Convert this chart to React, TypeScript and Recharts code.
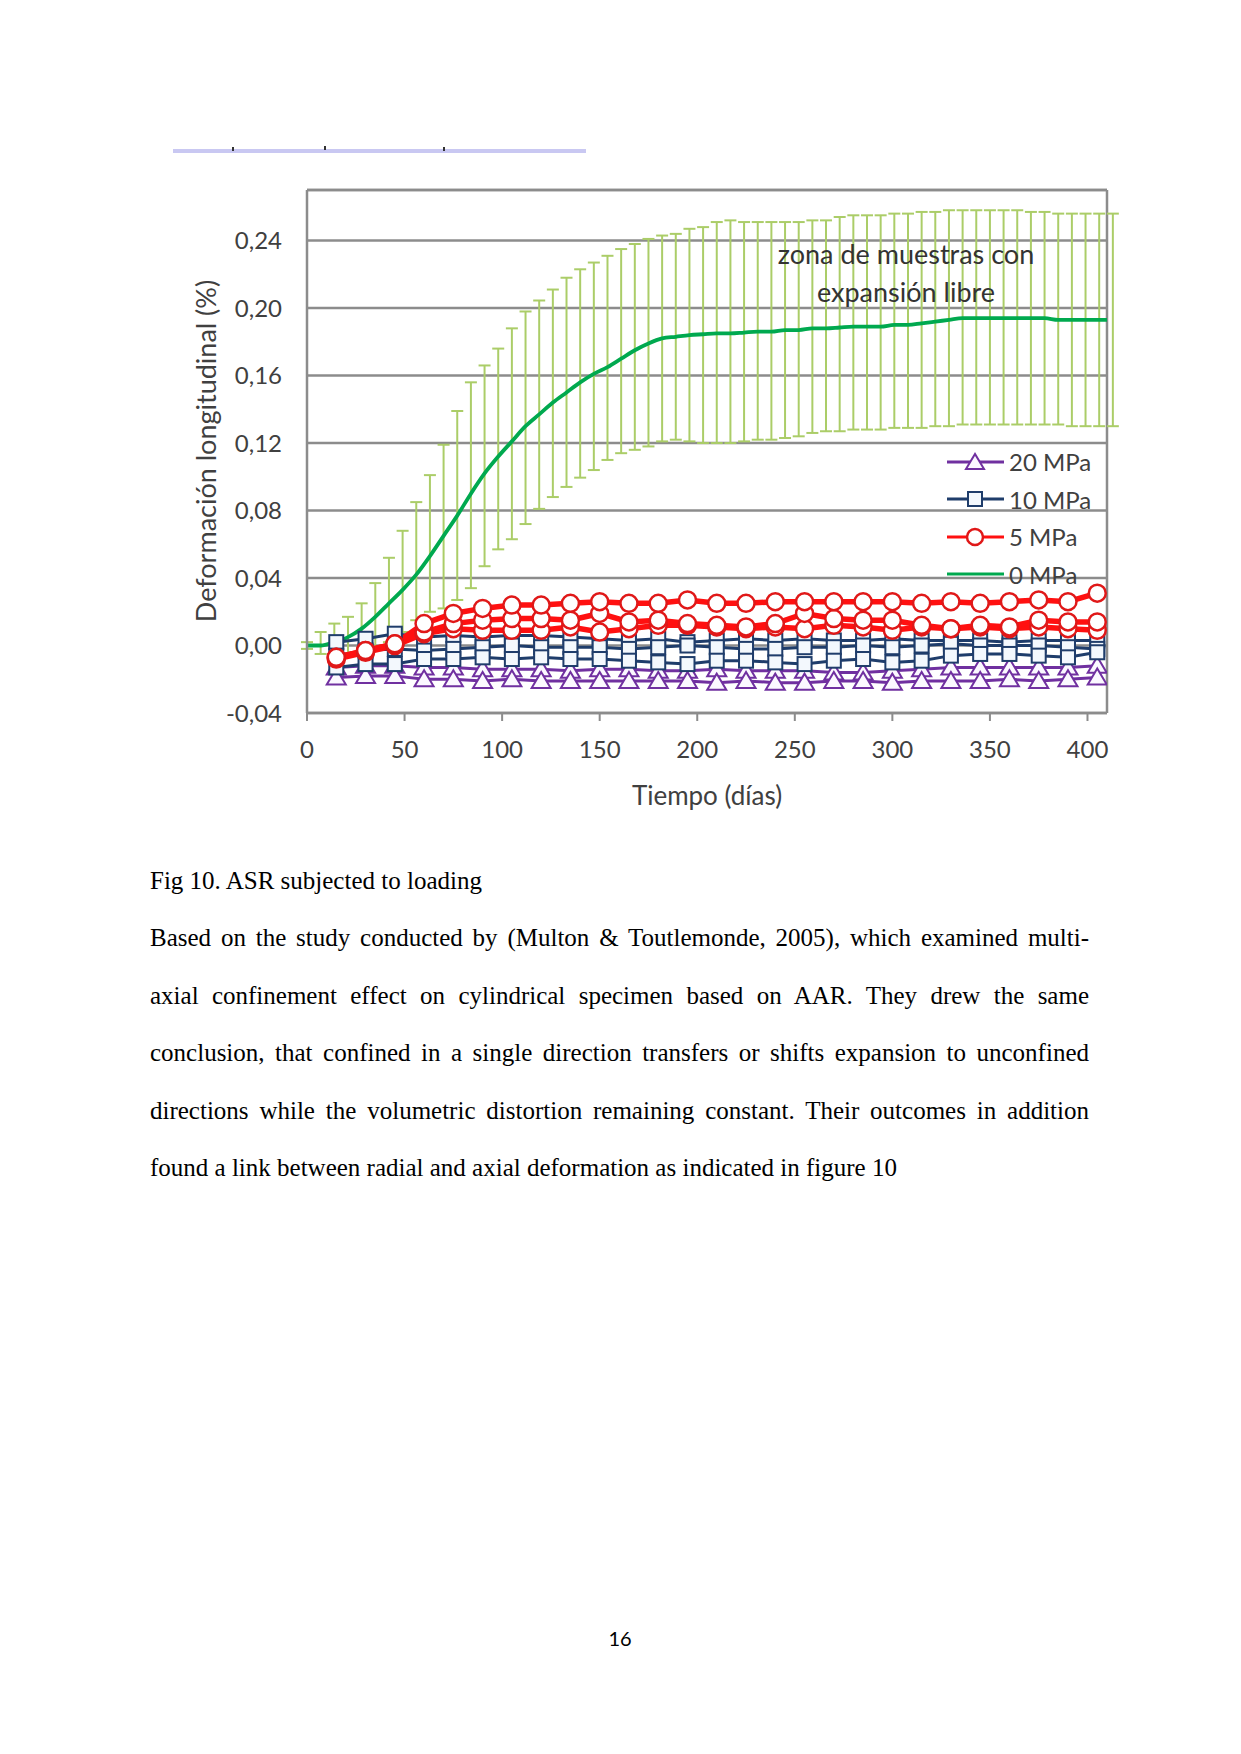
import React from 'react'
import { LineChart, Line, XAxis, YAxis, CartesianGrid, ReferenceLine, ErrorBar, Legend } from 'recharts'

// 0 MPa (muestras libres), medidas semanales
const diasLibre = [
  0, 7, 14, 21, 28, 35, 42, 49, 56, 63, 70, 77, 84, 91, 98, 105, 112, 119, 126, 133, 140, 147, 154, 161, 168,
  175, 182, 189, 196, 203, 210, 217, 224, 231, 238, 245, 252, 259, 266, 273, 280, 287, 294, 301, 308, 315,
  322, 329, 336, 343, 350, 357, 364, 371, 378, 385, 392, 399, 406, 413
]
const libreMedia = [
  0.0, 0.0, 0.002, 0.005, 0.01, 0.017, 0.025, 0.033, 0.042, 0.053, 0.065, 0.077, 0.09, 0.102, 0.112, 0.121,
  0.13, 0.137, 0.144, 0.15, 0.156, 0.161, 0.165, 0.17, 0.175, 0.179, 0.182, 0.183, 0.184, 0.1845, 0.185, 0.185,
  0.1855, 0.186, 0.186, 0.187, 0.187, 0.188, 0.188, 0.1885, 0.189, 0.189, 0.189, 0.19, 0.19, 0.191, 0.192,
  0.193, 0.194, 0.194, 0.194, 0.194, 0.194, 0.194, 0.194, 0.193, 0.193, 0.193, 0.193, 0.193
]
const libreSup = [
  0.002, 0.008, 0.013, 0.017, 0.025, 0.037, 0.052, 0.068, 0.085, 0.101, 0.119, 0.139, 0.156, 0.166, 0.176,
  0.188, 0.198, 0.2045, 0.211, 0.218, 0.223, 0.227, 0.231, 0.235, 0.238, 0.241, 0.243, 0.244, 0.247, 0.248,
  0.251, 0.252, 0.251, 0.251, 0.251, 0.251, 0.251, 0.252, 0.252, 0.254, 0.255, 0.255, 0.255, 0.256, 0.256,
  0.257, 0.257, 0.258, 0.258, 0.258, 0.258, 0.258, 0.258, 0.257, 0.257, 0.256, 0.256, 0.256, 0.256, 0.256
]
const libreInf = [
  -0.002, -0.005, -0.006, -0.005, -0.003, -0.001, 0.002, 0.008, 0.015, 0.02, 0.022, 0.027, 0.034, 0.047, 0.057,
  0.063, 0.072, 0.081, 0.088, 0.094, 0.0995, 0.104, 0.11, 0.114, 0.116, 0.118, 0.121, 0.122, 0.121, 0.12, 0.12,
  0.12, 0.121, 0.122, 0.122, 0.123, 0.124, 0.126, 0.127, 0.127, 0.128, 0.128, 0.128, 0.129, 0.129, 0.129, 0.13,
  0.13, 0.131, 0.131, 0.131, 0.131, 0.131, 0.131, 0.131, 0.131, 0.13, 0.13, 0.13, 0.13
]

// muestras cargadas, cada 15 dias
const diasCarga = [15, 30, 45, 60, 75, 90, 105, 120, 135, 150, 165, 180, 195, 210, 225, 240, 255, 270, 285, 300, 315, 330, 345, 360, 375, 390, 405]

const mpa5a = [-0.007, -0.003, 0.001, 0.013, 0.019, 0.022, 0.024, 0.024, 0.025, 0.026, 0.025, 0.025, 0.027, 0.025, 0.025, 0.026, 0.026, 0.026, 0.026, 0.026, 0.025, 0.026, 0.025, 0.026, 0.027, 0.026, 0.031]
const mpa5b = [-0.007, -0.003, 0.001, 0.008, 0.013, 0.015, 0.016, 0.016, 0.015, 0.019, 0.014, 0.015, 0.013, 0.012, 0.011, 0.013, 0.019, 0.016, 0.015, 0.015, 0.012, 0.01, 0.012, 0.011, 0.015, 0.014, 0.014]
const mpa5c = [-0.008, -0.004, 0.0, 0.007, 0.01, 0.009, 0.009, 0.009, 0.011, 0.008, 0.01, 0.012, 0.012, 0.011, 0.01, 0.011, 0.01, 0.012, 0.011, 0.009, 0.011, 0.01, 0.011, 0.01, 0.011, 0.01, 0.009]

const mpa10a = [0.002, 0.004, 0.007, 0.005, 0.006, 0.005, 0.006, 0.006, 0.005, 0.004, 0.003, 0.004, 0.002, 0.003, 0.004, 0.003, 0.004, 0.003, 0.003, 0.004, 0.003, 0.003, 0.003, 0.002, 0.003, 0.003, 0.003]
const mpa10b = [-0.006, -0.003, -0.002, -0.003, -0.002, -0.001, 0.0, -0.001, -0.001, -0.001, -0.002, -0.001, 0.0, -0.001, -0.002, -0.002, -0.001, -0.001, 0.0, -0.001, 0.0, 0.001, 0.0, 0.0, 0.0, -0.001, -0.002]
const mpa10c = [-0.013, -0.011, -0.011, -0.008, -0.008, -0.007, -0.008, -0.007, -0.008, -0.008, -0.009, -0.01, -0.011, -0.009, -0.009, -0.01, -0.011, -0.009, -0.008, -0.01, -0.009, -0.006, -0.005, -0.005, -0.006, -0.007, -0.004]

const mpa20a = [-0.013, -0.012, -0.012, -0.013, -0.013, -0.014, -0.014, -0.014, -0.015, -0.014, -0.014, -0.015, -0.015, -0.014, -0.015, -0.015, -0.015, -0.016, -0.016, -0.015, -0.014, -0.013, -0.013, -0.013, -0.013, -0.013, -0.012]
const mpa20b = [-0.019, -0.018, -0.018, -0.02, -0.02, -0.021, -0.02, -0.021, -0.021, -0.021, -0.021, -0.021, -0.021, -0.022, -0.021, -0.022, -0.022, -0.021, -0.021, -0.022, -0.021, -0.021, -0.021, -0.02, -0.021, -0.02, -0.019]

const ticksX = [0, 50, 100, 150, 200, 250, 300, 350, 400]
const ticksY = [-0.04, 0, 0.04, 0.08, 0.12, 0.16, 0.2, 0.24]

const libre = diasLibre.map((dia, i) => ({
  dia,
  v: libreMedia[i],
  err: [libreMedia[i] - libreInf[i], libreSup[i] - libreMedia[i]]
}))
const serie = (vals: number[]) => diasCarga.map((dia, i) => ({ dia, v: vals[i] }))

const MORADO = '#7030a0'
const AZUL = '#1f3d6b'
const ROJO = '#ff1010'
const VERDE = '#00a94f'
const GRIS = '#8c8c8c'
const TEXTO = '#404040'

const Triangulo = (p: any) => {
  const { cx, cy, index } = p
  if (cx == null || cy == null) return <g key={index} />
  return (
    <polygon
      key={index}
      points={`${cx},${cy - 9} ${cx - 9.5},${cy + 7} ${cx + 9.5},${cy + 7}`}
      fill="#fbf8ff"
      stroke={MORADO}
      strokeWidth={2}
    />
  )
}

const Cuadrado = (p: any) => {
  const { cx, cy, index } = p
  if (cx == null || cy == null) return <g key={index} />
  return <rect key={index} x={cx - 7} y={cy - 7} width={14} height={14} fill="#f3f8fd" stroke={AZUL} strokeWidth={2} />
}

const Circulo = (p: any) => {
  const { cx, cy, index } = p
  if (cx == null || cy == null) return <g key={index} />
  return <circle key={index} cx={cx} cy={cy} r={8.5} fill="#fff" stroke="#e01818" strokeWidth={2.5} />
}

const leyenda = [
  { nombre: '20 MPa', color: MORADO, marca: 'tri' },
  { nombre: '10 MPa', color: AZUL, marca: 'cua' },
  { nombre: '5 MPa', color: ROJO, marca: 'cir' },
  { nombre: '0 MPa', color: VERDE, marca: '' }
]

const Leyenda = () => (
  <div style={{ fontFamily: 'Lato', fontSize: 24, color: TEXTO }}>
    {leyenda.map((l) => (
      <div key={l.nombre} style={{ display: 'flex', alignItems: 'center', height: 37.5 }}>
        <svg width={60} height={24}>
          <line x1={0} y1={12} x2={57} y2={12} stroke={l.color} strokeWidth={3} />
          {l.marca === 'tri' && <polygon points="28,4 19,19 37,19" fill="#fbf8ff" stroke={l.color} strokeWidth={2} />}
          {l.marca === 'cua' && <rect x={21} y={5} width={14} height={14} fill="#f3f8fd" stroke={l.color} strokeWidth={2} />}
          {l.marca === 'cir' && <circle cx={28} cy={12} r={8} fill="#fff" stroke="#e01818" strokeWidth={2.5} />}
        </svg>
        <span style={{ marginLeft: 2 }}>{l.nombre}</span>
      </div>
    ))}
  </div>
)

const Grafico = () => (
  <LineChart width={980} height={660} margin={{ top: 20, right: 23, bottom: 27, left: 0 }}>
    <CartesianGrid horizontal vertical={false} stroke={GRIS} strokeWidth={2.5} />
    <XAxis
      dataKey="dia"
      type="number"
      domain={[0, 410]}
      allowDataOverflow
      ticks={ticksX}
      height={90}
      tickSize={8}
      tickMargin={20}
      axisLine={{ stroke: GRIS, strokeWidth: 2.5 }}
      tickLine={{ stroke: GRIS, strokeWidth: 2 }}
      tick={{ fontSize: 24, fill: TEXTO, fontFamily: 'Lato' }}
    />
    <YAxis
      type="number"
      domain={[-0.04, 0.27]}
      allowDataOverflow
      ticks={ticksY}
      width={157}
      tickSize={0}
      tickMargin={25}
      tickLine={false}
      axisLine={{ stroke: GRIS, strokeWidth: 2.5 }}
      tick={{ fontSize: 24, fill: TEXTO, fontFamily: 'Lato' }}
      tickFormatter={(v: number) => v.toFixed(2).replace('.', ',')}
    />
    <ReferenceLine y={0.27} stroke={GRIS} strokeWidth={2.5} />
    <ReferenceLine x={410} stroke={GRIS} strokeWidth={2.5} />

    <Line data={libre} dataKey="v" type="monotone" stroke={VERDE} strokeWidth={3.8} dot={false} isAnimationActive={false}>
      <ErrorBar dataKey="err" direction="y" width={6} stroke="#abcd68" strokeWidth={2} />
    </Line>

    <Line data={serie(mpa20a)} dataKey="v" stroke={MORADO} strokeWidth={3} dot={Triangulo} isAnimationActive={false} />
    <Line data={serie(mpa20b)} dataKey="v" stroke={MORADO} strokeWidth={3} dot={Triangulo} isAnimationActive={false} />

    <Line data={serie(mpa10a)} dataKey="v" stroke={AZUL} strokeWidth={3} dot={Cuadrado} isAnimationActive={false} />
    <Line data={serie(mpa10b)} dataKey="v" stroke={AZUL} strokeWidth={3} dot={Cuadrado} isAnimationActive={false} />
    <Line data={serie(mpa10c)} dataKey="v" stroke={AZUL} strokeWidth={3} dot={Cuadrado} isAnimationActive={false} />

    <Line data={serie(mpa5c)} dataKey="v" stroke={ROJO} strokeWidth={5.5} dot={Circulo} isAnimationActive={false} />
    <Line data={serie(mpa5b)} dataKey="v" stroke={ROJO} strokeWidth={5.5} dot={Circulo} isAnimationActive={false} />
    <Line data={serie(mpa5a)} dataKey="v" stroke={ROJO} strokeWidth={5.5} dot={Circulo} isAnimationActive={false} />

    <Legend
      layout="horizontal"
      verticalAlign="middle"
      align="center"
      content={() => <Leyenda />}
      wrapperStyle={{ left: 797, top: 273, width: 200, height: 160 }}
    />
  </LineChart>
)

const parrafo = [
  'Based on the study conducted by (Multon & Toutlemonde, 2005), which examined multi-',
  'axial confinement effect on cylindrical specimen based on AAR. They drew the same',
  'conclusion, that confined in a single direction transfers or shifts expansion to unconfined',
  'directions while the volumetric distortion remaining constant. Their outcomes in addition',
  'found a link between radial and axial deformation as indicated in figure 10'
]

export default function App() {
  const serif = { fontFamily: '"Liberation Serif", "Times New Roman", serif', fontSize: 25, color: '#000' }
  return (
    <div style={{ position: 'absolute', left: 0, top: 0, width: 1241, height: 1754, background: '#fff', overflow: 'hidden' }}>
      {/* resto de la figura anterior */}
      <div style={{ position: 'absolute', left: 173, top: 149, width: 413, height: 4, background: '#c9c8f2' }} />
      <div style={{ position: 'absolute', left: 232, top: 147, width: 2, height: 4, background: '#333' }} />
      <div style={{ position: 'absolute', left: 324, top: 146, width: 2, height: 4, background: '#333' }} />
      <div style={{ position: 'absolute', left: 443, top: 147, width: 2, height: 4, background: '#333' }} />

      <div style={{ position: 'absolute', left: 150, top: 170 }}>
        <Grafico />
      </div>

      <div
        style={{
          position: 'absolute',
          left: 205,
          top: 451,
          transform: 'translate(-50%, -50%) rotate(-90deg)',
          whiteSpace: 'nowrap',
          fontFamily: 'Lato',
          fontSize: 27,
          color: TEXTO
        }}
      >
        Deformación longitudinal (%)
      </div>
      <div
        style={{
          position: 'absolute',
          left: 707,
          top: 795,
          transform: 'translate(-50%, -50%)',
          whiteSpace: 'nowrap',
          fontFamily: 'Lato',
          fontSize: 26,
          color: TEXTO
        }}
      >
        Tiempo (días)
      </div>
      <div
        style={{
          position: 'absolute',
          left: 906,
          top: 273,
          transform: 'translate(-50%, -50%)',
          textAlign: 'center',
          whiteSpace: 'nowrap',
          fontFamily: 'Lato',
          fontSize: 27,
          lineHeight: '38px',
          color: '#333'
        }}
      >
        zona de muestras con
        <br />
        expansión libre
      </div>

      <div style={{ ...serif, position: 'absolute', left: 150, top: 852, lineHeight: '57.6px' }}>
        Fig 10. ASR subjected to loading
      </div>
      {parrafo.map((t, i) => (
        <div
          key={i}
          style={{
            ...serif,
            position: 'absolute',
            left: 150,
            top: 909 + i * 57.6,
            width: 939,
            lineHeight: '57.6px',
            textAlign: 'justify',
            textAlignLast: i < parrafo.length - 1 ? 'justify' : 'left',
            whiteSpace: 'nowrap'
          }}
        >
          {t}
        </div>
      ))}

      <div
        style={{
          position: 'absolute',
          left: 620,
          top: 1638,
          transform: 'translate(-50%, -50%)',
          fontFamily: 'Lato',
          fontSize: 20,
          color: '#000'
        }}
      >
        16
      </div>
    </div>
  )
}
